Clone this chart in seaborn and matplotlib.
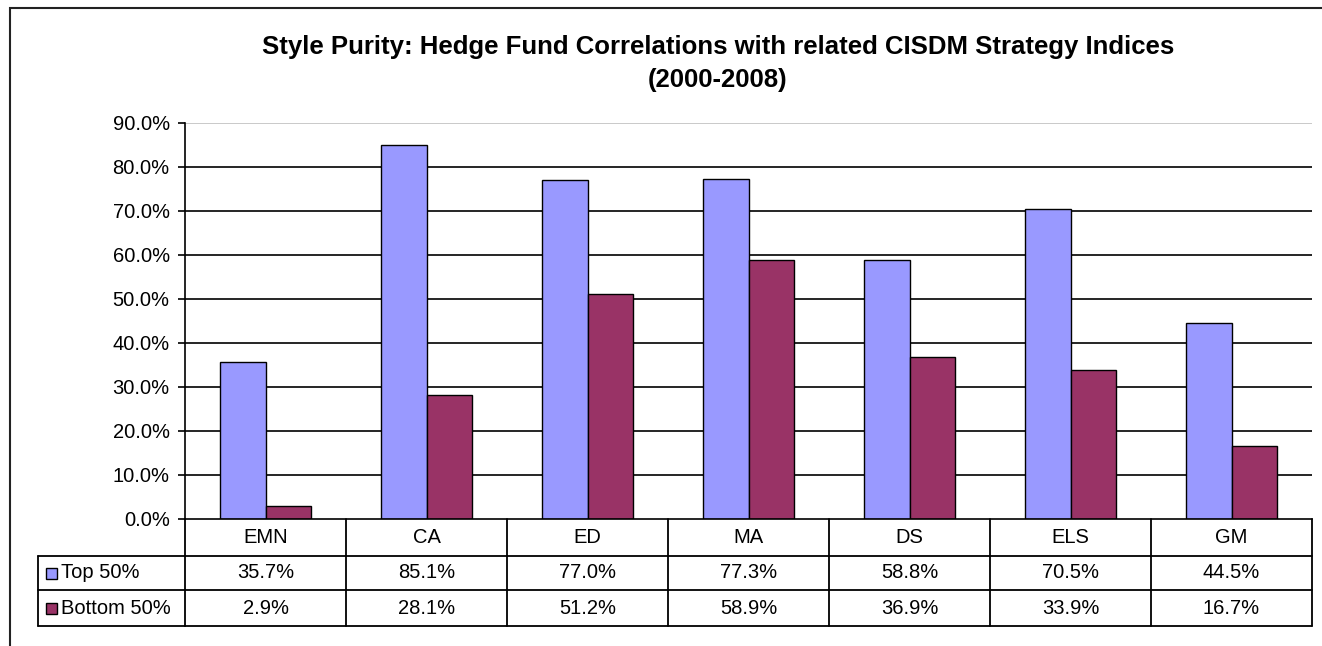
import matplotlib
matplotlib.use('Agg')
import matplotlib.pyplot as plt
import matplotlib.transforms as mtransforms
from matplotlib.patches import Rectangle
import seaborn as sns
import pandas as pd

# data
categories = ['EMN', 'CA', 'ED', 'MA', 'DS', 'ELS', 'GM']
series_names = ['Top 50%', 'Bottom 50%']
top_50 = [35.7, 85.1, 77.0, 77.3, 58.8, 70.5, 44.5]
bottom_50 = [2.9, 28.1, 51.2, 58.9, 36.9, 33.9, 16.7]
colors = ['#9999FF', '#993366']

df = pd.DataFrame({
    'Category': categories * 2,
    'Series': [series_names[0]] * len(categories) + [series_names[1]] * len(categories),
    'Value': top_50 + bottom_50,
})

sns.set_style('white')
plt.rcParams['font.family'] = ['Liberation Sans', 'DejaVu Sans']
plt.rcParams['text.color'] = 'black'
plt.rcParams['ytick.color'] = 'black'
plt.rcParams['ytick.labelcolor'] = 'black'

W, H = 1322, 646
fig = plt.figure(figsize=(W / 100, H / 100), dpi=100)

# plot area in pixels
left, right, top, bottom = 185, 1312, 123, 519
ax = fig.add_axes([left / W, 1 - bottom / H, (right - left) / W, (bottom - top) / H])

sns.barplot(data=df, x='Category', y='Value', hue='Series', palette=colors,
            saturation=1, width=0.57, edgecolor='black', linewidth=1,
            legend=False, ax=ax, order=categories, hue_order=series_names)

ax.set_ylim(0, 90)
ax.set_xlim(-0.5, len(categories) - 0.5)
yticks = list(range(0, 100, 10))
ax.set_yticks(yticks)
ax.set_yticklabels([f'{t:.1f}%' for t in yticks], fontsize=14.5)
ax.set_xticks([])
ax.set_xlabel('')
ax.set_ylabel('')
for t in yticks[1:]:
    ax.axhline(t, color='#C0C0C0' if t == 90 else 'black', lw=1.2, zorder=0)
ax.tick_params(axis='y', direction='out', length=5, width=1.2, color='black', pad=6, left=True)
for s in ['top', 'right']:
    ax.spines[s].set_visible(False)
for s in ['left', 'bottom']:
    ax.spines[s].set_color('black')
    ax.spines[s].set_linewidth(1.2)

# data table below the plot
ph = bottom - top
pw = right - left
r1 = (556 - bottom) / ph
r2 = (590 - bottom) / ph
r3 = (626 - bottom) / ph
leg_x = (38 - left) / pw
trans = mtransforms.blended_transform_factory(ax.transData, ax.transAxes)
n = len(categories)
lk = dict(color='black', lw=1.3, clip_on=False)

for i in range(n + 1):
    ax.plot([i - 0.5, i - 0.5], [0, -r3], transform=trans, **lk)
for yy in [r1, r2, r3]:
    ax.plot([-0.5, n - 0.5], [-yy, -yy], transform=trans, **lk)
for yy in [r1, r2, r3]:
    ax.plot([leg_x, 0], [-yy, -yy], transform=ax.transAxes, **lk)
ax.plot([leg_x, leg_x], [-r1, -r3], transform=ax.transAxes, **lk)

for i, cat in enumerate(categories):
    ax.text(i, -r1 / 2, cat, transform=trans, ha='center', va='center', fontsize=14.5)
    ax.text(i, -(r1 + r2) / 2, f'{top_50[i]:.1f}%', transform=trans,
            ha='center', va='center', fontsize=14.5)
    ax.text(i, -(r2 + r3) / 2, f'{bottom_50[i]:.1f}%', transform=trans,
            ha='center', va='center', fontsize=14.5)

sq_w, sq_h = 11 / pw, 11 / ph
for name, col, yc in [(series_names[0], colors[0], -(r1 + r2) / 2),
                      (series_names[1], colors[1], -(r2 + r3) / 2)]:
    ax.add_patch(Rectangle(((46 - left) / pw, yc - sq_h / 2), sq_w, sq_h,
                           transform=ax.transAxes, facecolor=col, edgecolor='black',
                           lw=1, clip_on=False))
    ax.text((61 - left) / pw, yc, name, transform=ax.transAxes, ha='left',
            va='center', fontsize=14.5)

# title
fig.text(718 / W, 1 - 47 / H, 'Style Purity: Hedge Fund Correlations with related CISDM Strategy Indices',
         ha='center', va='center', fontsize=18.5, fontweight='bold')
fig.text(718 / W, 1 - 80 / H, '(2000-2008)', ha='center', va='center',
         fontsize=18.5, fontweight='bold')

# chart area border
fig.add_artist(Rectangle((10 / W, -0.1), 1.2, 1 - 8 / H + 0.1, transform=fig.transFigure,
                         fill=False, edgecolor='#222222', lw=1.5, clip_on=False))

fig.savefig('out.png', dpi=100)
